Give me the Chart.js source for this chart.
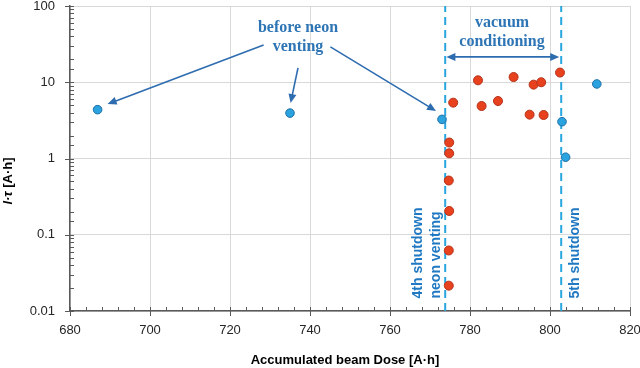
<!DOCTYPE html>
<html>
<head>
<meta charset="utf-8">
<script src="https://cdn.jsdelivr.net/npm/chart.js@4"></script>
<style>
  html, body { margin: 0; padding: 0; background: #fff; }
  #wrap { width: 640px; height: 368px; }
</style>
</head>
<body>
<div id="wrap"><canvas id="grafico" width="640" height="368"></canvas></div>
<script>
// --- Data ---
const blueX = [686.9, 735.0, 773.0, 803.0, 803.9, 811.7];
const blueY = [4.37, 3.94, 3.26, 3.04, 1.04, 9.5];
const redX = [774.8, 774.8, 774.7, 774.8, 774.7, 774.7, 775.8, 782.0, 782.9, 787.0, 790.9, 794.9, 795.9, 797.8, 798.4, 802.5];
const redY = [1.62, 1.17, 0.514, 0.205, 0.0622, 0.0215, 5.4, 10.6, 4.88, 5.67, 11.7, 3.76, 9.3, 10.0, 3.72, 13.4];
const shutdownX = [773.8, 802.8];
const xTicks = [680, 700, 720, 740, 760, 780, 800, 820];
const yTicks = [0.01, 0.1, 1, 10, 100];

const corTexto = "#2e75b6";
const corSeta = "#2e6cb0";
const corTracejado = "#29a6de";
const corEixo = "#595959";
const corGrade = "#d9d9d9";

const pares = (xs, ys) => xs.map((x, i) => ({ x, y: ys[i] }));
const isMajor = (v) => yTicks.some((t) => Math.abs(Math.log10(v) - Math.log10(t)) < 1e-6);

// --- Dashed shutdown lines as line datasets ---
const linhas = shutdownX.map((x) => ({
  type: "line",
  data: [{ x, y: yTicks[0] }, { x, y: yTicks[yTicks.length - 1] }],
  borderColor: corTracejado,
  borderWidth: 2,
  borderDash: [8, 5],
  pointRadius: 0,
  fill: false,
  order: 2,
}));

// --- Annotations (arrows + texts) in data coordinates ---
const setas = [
  { de: [728.4, 30.7], para: [689.4, 5.18] },
  { de: [737.0, 15.4], para: [735.15, 5.34] },
  { de: [745.1, 29.1], para: [771.5, 4.19] },
];
const setaDupla = { de: [774.1, 21.5], para: [802.3, 21.5] };

const textos = [
  { t: "before neon", x: 737, y: 51.4 },
  { t: "venting", x: 737, y: 28.9 },
  { t: "vacuum", x: 788, y: 60.3 },
  { t: "conditioning", x: 788, y: 33.9 },
];
const textosVerticais = [
  { t: "4th shutdown", x: 767.0, y: 0.0146 },
  { t: "neon venting", x: 771.5, y: 0.0146 },
  { t: "5th shutdown", x: 806.3, y: 0.0146 },
];

const desenhaSeta = (ctx, x1, y1, x2, y2, dupla) => {
  const ang = Math.atan2(y2 - y1, x2 - x1);
  const cab = (px, py, a) => {
    ctx.beginPath();
    ctx.moveTo(px, py);
    ctx.lineTo(px - 9 * Math.cos(a) + 4 * Math.sin(a), py - 9 * Math.sin(a) - 4 * Math.cos(a));
    ctx.lineTo(px - 9 * Math.cos(a) - 4 * Math.sin(a), py - 9 * Math.sin(a) + 4 * Math.cos(a));
    ctx.closePath();
    ctx.fill();
  };
  ctx.beginPath();
  ctx.moveTo(x1 + (dupla ? 6 * Math.cos(ang) : 0), y1 + (dupla ? 6 * Math.sin(ang) : 0));
  ctx.lineTo(x2 - 6 * Math.cos(ang), y2 - 6 * Math.sin(ang));
  ctx.stroke();
  cab(x2, y2, ang);
  if (dupla) cab(x1, y1, ang + Math.PI);
};

const anotacoes = {
  id: "anotacoes",
  afterDatasetsDraw(chart) {
    const { ctx } = chart;
    const sx = chart.scales.x;
    const sy = chart.scales.y;
    const px = (v) => sx.getPixelForValue(v);
    const py = (v) => sy.getPixelForValue(v);
    ctx.save();
    ctx.strokeStyle = corSeta;
    ctx.fillStyle = corSeta;
    ctx.lineWidth = 1.6;
    setas.forEach((s) => desenhaSeta(ctx, px(s.de[0]), py(s.de[1]), px(s.para[0]), py(s.para[1]), false));
    desenhaSeta(ctx, px(setaDupla.de[0]), py(setaDupla.de[1]), px(setaDupla.para[0]), py(setaDupla.para[1]), true);

    ctx.fillStyle = corTexto;
    ctx.font = "bold 16px 'Liberation Serif', 'DejaVu Serif', serif";
    ctx.textAlign = "center";
    ctx.textBaseline = "middle";
    textos.forEach((t) => ctx.fillText(t.t, px(t.x), py(t.y)));

    ctx.fillStyle = "#2079c2";
    ctx.font = "bold 14px 'Liberation Sans', Arial, sans-serif";
    ctx.textAlign = "left";
    textosVerticais.forEach((t) => {
      ctx.save();
      ctx.translate(px(t.x), py(t.y));
      ctx.rotate(-Math.PI / 2);
      ctx.fillText(t.t, 0, 0);
      ctx.restore();
    });
    ctx.restore();
  },
  afterDraw(chart) {
    const { ctx, chartArea } = chart;
    const sx = chart.scales.x;
    const sy = chart.scales.y;
    ctx.save();
    ctx.strokeStyle = corEixo;
    ctx.lineWidth = 1;
    // y axis ticks (major cross the axis, minor inside)
    sy.ticks.forEach((tk) => {
      const y = Math.round(sy.getPixelForValue(tk.value)) + 0.5;
      ctx.beginPath();
      if (isMajor(tk.value)) {
        ctx.moveTo(chartArea.left - 5, y);
        ctx.lineTo(chartArea.left + 4, y);
      } else {
        ctx.moveTo(chartArea.left, y);
        ctx.lineTo(chartArea.left + 4, y);
      }
      ctx.stroke();
    });
    // x axis ticks, minor every 4
    for (let v = xTicks[0]; v <= xTicks[xTicks.length - 1]; v += 4) {
      const x = Math.round(sx.getPixelForValue(v)) + 0.5;
      ctx.beginPath();
      if (xTicks.includes(v)) {
        ctx.moveTo(x, chartArea.bottom - 4);
        ctx.lineTo(x, chartArea.bottom + 5);
      } else {
        ctx.moveTo(x, chartArea.bottom - 4);
        ctx.lineTo(x, chartArea.bottom);
      }
      ctx.stroke();
    }

    // --- Axis titles ---
    ctx.fillStyle = "#000";
    ctx.textBaseline = "middle";
    ctx.textAlign = "center";
    ctx.font = "bold 13px 'Liberation Sans', Arial, sans-serif";
    ctx.fillText("Accumulated beam Dose [A·h]", 345, 360);

    ctx.save();
    ctx.translate(8, 181);
    ctx.rotate(-Math.PI / 2);
    const fItal = "italic bold 13px 'Liberation Sans', Arial, sans-serif";
    const fBold = "bold 13px 'Liberation Sans', Arial, sans-serif";
    ctx.font = fItal;
    const w1 = ctx.measureText("I·τ").width;
    ctx.font = fBold;
    const w2 = ctx.measureText(" [A·h]").width;
    ctx.textAlign = "left";
    ctx.font = fItal;
    ctx.fillText("I·τ", -(w1 + w2) / 2, 0);
    ctx.font = fBold;
    ctx.fillText(" [A·h]", -(w1 + w2) / 2 + w1, 0);
    ctx.restore();
    ctx.restore();
  },
};

new Chart(document.getElementById("grafico"), {
  type: "scatter",
  data: {
    datasets: [
      {
        label: "red",
        data: pares(redX, redY),
        backgroundColor: "#e8411e",
        borderColor: "#b5321a",
        borderWidth: 1,
        pointRadius: 4.5,
        order: 0,
      },
      {
        label: "blue",
        data: pares(blueX, blueY),
        backgroundColor: "#2ba3de",
        borderColor: "#1f6fa8",
        borderWidth: 1,
        pointRadius: 4.3,
        order: 1,
      },
      ...linhas,
    ],
  },
  options: {
    responsive: false,
    animation: false,
    layout: { padding: { top: 6, right: 10, left: 0, bottom: 0 } },
    plugins: {
      legend: { display: false },
      tooltip: { enabled: false },
    },
    scales: {
      x: {
        type: "linear",
        min: xTicks[0],
        max: xTicks[xTicks.length - 1],
        afterFit: (s) => {
          s.height = 57;
          s.paddingLeft = 0;
          s.paddingRight = 0;
        },
        afterBuildTicks: (s) => { s.ticks = xTicks.map((v) => ({ value: v })); },
        ticks: {
          padding: 12,
          color: "#262626",
          font: { family: "'Liberation Sans', Arial, sans-serif", size: 13 },
        },
        grid: { color: corGrade, drawTicks: false, lineWidth: 1 },
        border: { color: corEixo, width: 1.5 },
      },
      y: {
        type: "logarithmic",
        min: yTicks[0],
        max: yTicks[yTicks.length - 1],
        afterFit: (s) => {
          s.width = 70;
          s.paddingTop = 0;
          s.paddingBottom = 0;
        },
        ticks: {
          autoSkip: false,
          padding: 15,
          color: "#262626",
          font: { family: "'Liberation Sans', Arial, sans-serif", size: 13 },
          callback: (v) => {
            if (!isMajor(v)) return "";
            const e = Math.round(Math.log10(v));
            return e < 0 ? v.toFixed(-e) : String(Math.round(v));
          },
        },
        grid: {
          drawTicks: false,
          color: (c) => (c.tick && isMajor(c.tick.value) ? corGrade : "rgba(0,0,0,0)"),
        },
        border: { color: corEixo, width: 1.5 },
      },
    },
  },
  plugins: [anotacoes],
});
</script>
</body>
</html>
